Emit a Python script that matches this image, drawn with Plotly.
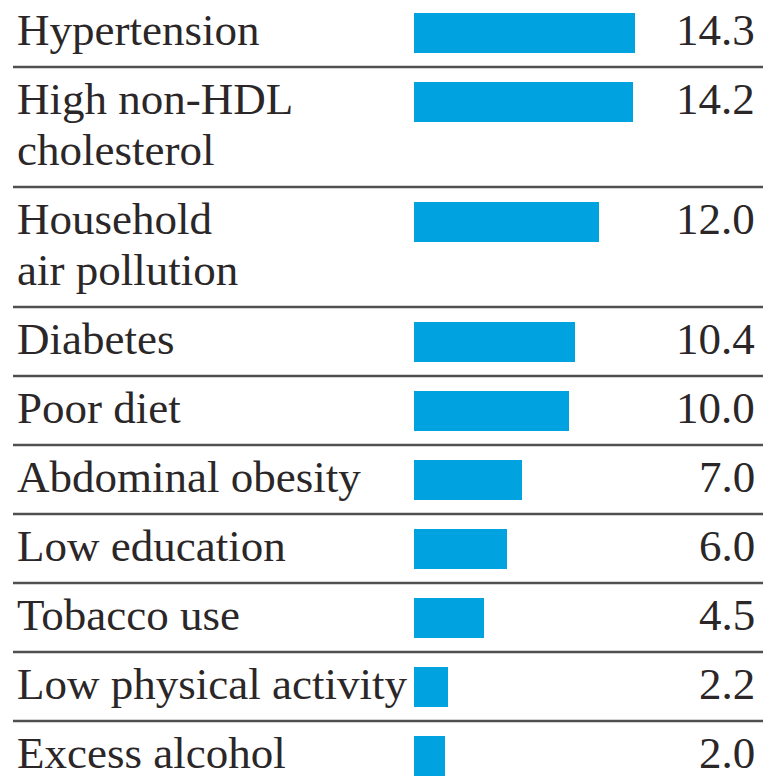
import plotly.graph_objects as go

# ---- data ----
categories = [
    "Hypertension",
    "High non-HDL<br>cholesterol",
    "Household<br>air pollution",
    "Diabetes",
    "Poor diet",
    "Abdominal obesity",
    "Low education",
    "Tobacco use",
    "Low physical activity",
    "Excess alcohol",
]
values = [14.3, 14.2, 12.0, 10.4, 10.0, 7.0, 6.0, 4.5, 2.2, 2.0]
value_labels = ["14.3", "14.2", "12.0", "10.4", "10.0", "7.0", "6.0", "4.5", "2.2", "2.0"]

# ---- layout constants (screen pixels) ----
W, H = 771, 778
PAGE_OFF = 8           # default body margin of the html page
ROW_SINGLE = 69        # height of a one-line row
ROW_EXTRA = 51         # extra height per additional text line
FIRST_TOP = -2         # top of first row
BAR_OFFSET = 34.5      # bar centre below row top
TEXT_SHIFT = -2.5      # text centre relative to bar centre
BAR_H = 40
BAR_X0 = 414           # pixel where bars start
PX_PER_UNIT = 221 / 14.3
LABEL_X = 15
VALUE_X = 757
LINE_X0 = 13
FONT = "Liberation Serif"
FS = 45
TEXT_COL = "#2b2728"
BAR_COL = "#00a3e0"
LINE_COL = "#505050"


def px(s):
    """screen x pixel -> paper fraction"""
    return (s - PAGE_OFF) / W


# compute row geometry from number of label lines
tops, centres = [], []
t = FIRST_TOP
for c in categories:
    n = len(c.split("<br>"))
    tops.append(t)
    centres.append(t + BAR_OFFSET)
    t += ROW_SINGLE + ROW_EXTRA * (n - 1)

fig = go.Figure(
    go.Bar(
        x=values,
        y=centres,
        orientation="h",
        width=BAR_H,
        marker=dict(color=BAR_COL, line=dict(width=0)),
        hoverinfo="skip",
    )
)

annotations = []
for c, yc, lab in zip(categories, centres, value_labels):
    for i, line in enumerate(c.split("<br>")):
        annotations.append(dict(
            x=px(LABEL_X), xref="paper", xanchor="left",
            y=yc + TEXT_SHIFT + i * ROW_EXTRA, yref="y", yanchor="middle",
            text=line, showarrow=False,
            font=dict(family=FONT, size=FS, color=TEXT_COL),
        ))
    annotations.append(dict(
        x=px(VALUE_X), xref="paper", xanchor="right",
        y=yc + TEXT_SHIFT, yref="y", yanchor="middle",
        text=lab, showarrow=False,
        font=dict(family=FONT, size=FS, color=TEXT_COL),
    ))

shapes = []
for tp in tops[1:]:
    shapes.append(dict(
        type="line", xref="paper", yref="y",
        x0=px(LINE_X0), x1=1, y0=tp, y1=tp,
        line=dict(color=LINE_COL, width=2.5),
    ))

fig.update_layout(
    width=W, height=H,
    margin=dict(l=0, r=0, t=0, b=0),
    paper_bgcolor="white", plot_bgcolor="white",
    showlegend=False,
    xaxis=dict(domain=[px(BAR_X0), 1],
               range=[0, (W + PAGE_OFF - BAR_X0) / PX_PER_UNIT],
               visible=False, fixedrange=True),
    yaxis=dict(range=[H + PAGE_OFF, PAGE_OFF], visible=False, fixedrange=True),
    annotations=annotations,
    shapes=shapes,
    bargap=0,
)

fig.write_html("out.html")
